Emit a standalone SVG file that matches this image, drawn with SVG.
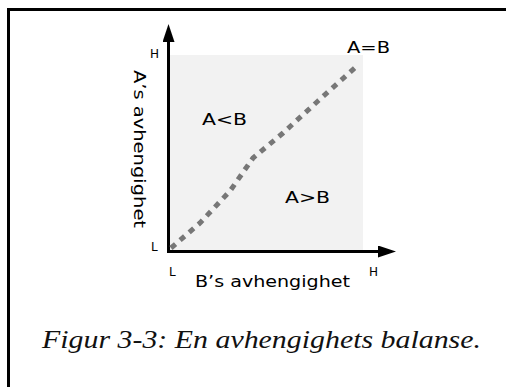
<svg xmlns="http://www.w3.org/2000/svg" width="506" height="387" viewBox="0 0 506 387">
<style>
.lbl{font-family:"DejaVu Sans","Liberation Sans",sans-serif;fill:#000}
.big{font-size:16px}
.small{font-size:12px}
.cap{font-family:"Liberation Serif",serif;font-style:italic;font-size:25px;fill:#111}
.axis{stroke:#000;stroke-width:3;fill:none}
</style>
<defs>
<marker id="ah" markerWidth="6" markerHeight="4" refX="0" refY="2" orient="auto" markerUnits="strokeWidth">
<path d="M0,0 L6,2 L0,4 Z" fill="#000"/>
</marker>
</defs>
<rect x="0" y="0" width="506" height="387" fill="#fff"/>
<path d="M8.5,387 V9.5 H506" fill="none" stroke="#000" stroke-width="3"/>
<g id="region">
<rect x="170" y="55" width="193" height="195" fill="#f2f2f2"/>
</g>
<g id="connectors">
<path class="axis" d="M168.5,251.5 V42" marker-end="url(#ah)"/>
<path class="axis" d="M167,251.5 H378" marker-end="url(#ah)"/>
<path d="M171,248 L200,223 L230,191 L253,158 L283,133 L318,101 L357,66" fill="none" stroke="#777" stroke-width="5" stroke-dasharray="6,6"/>
</g>
<g id="labels">
<text class="lbl small" x="150" y="58">H</text>
<text class="lbl small" x="151" y="251">L</text>
<text class="lbl small" x="169" y="276">L</text>
<text class="lbl small" x="369" y="276">H</text>
<text class="lbl big" x="347" y="53" textLength="43" lengthAdjust="spacingAndGlyphs">A=B</text>
<text class="lbl big" x="202" y="125" textLength="45" lengthAdjust="spacingAndGlyphs">A&lt;B</text>
<text class="lbl big" x="285" y="203" textLength="45" lengthAdjust="spacingAndGlyphs">A&gt;B</text>
<text class="lbl big" x="195" y="287" textLength="155" lengthAdjust="spacingAndGlyphs">B’s avhengighet</text>
<text class="lbl big" transform="translate(134,70) rotate(90)" x="0" y="0" textLength="158" lengthAdjust="spacingAndGlyphs">A’s avhengighet</text>
</g>
<text class="cap" x="42" y="348" textLength="439" lengthAdjust="spacingAndGlyphs">Figur 3-3: En avhengighets balanse.</text>
</svg>
